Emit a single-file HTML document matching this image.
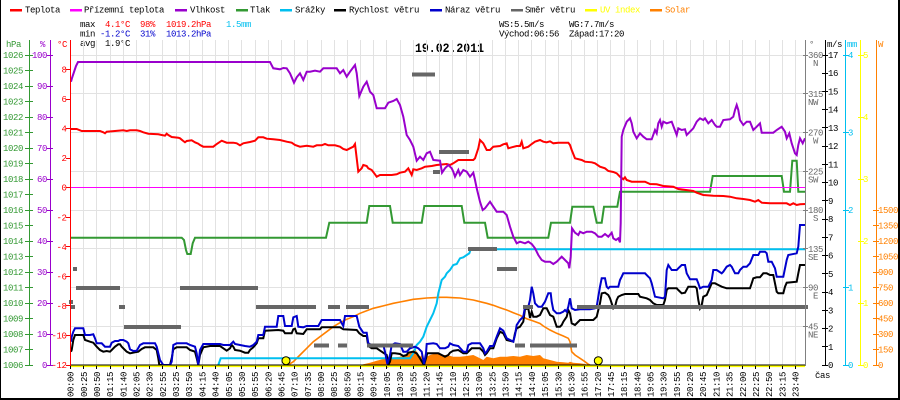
<!DOCTYPE html>
<html><head><meta charset="utf-8"><style>
html,body{margin:0;padding:0;background:#fff;}
svg{display:block;}
text{font-family:"Liberation Mono","DejaVu Sans Mono",monospace;font-size:9px;letter-spacing:-0.4px;}
</style></head><body>
<svg width="900" height="400" viewBox="0 0 900 400" xmlns="http://www.w3.org/2000/svg">
<rect x="0" y="0" width="900" height="400" fill="#fff"/>
<!-- border -->
<rect x="0" y="0" width="1" height="400" fill="#000"/>
<rect x="898" y="0" width="2" height="400" fill="#000"/>
<rect x="0" y="398" width="900" height="2" fill="#000"/>

<!-- legend -->
<g>
<rect x="10" y="9" width="12" height="2.5" fill="#f00"/><text x="25" y="12.5">Teplota</text>
<rect x="70" y="9" width="12" height="2.5" fill="#f0f"/><text x="84" y="12.5">Přízemní teplota</text>
<rect x="175" y="9" width="12" height="2.5" fill="#90c"/><text x="190" y="12.5">Vlhkost</text>
<rect x="236" y="9" width="12" height="2.5" fill="#393"/><text x="250" y="12.5">Tlak</text>
<rect x="280" y="9" width="12" height="2.5" fill="#00bfef"/><text x="295" y="12.5">Srážky</text>
<rect x="334" y="9" width="12" height="2.5" fill="#000"/><text x="349" y="12.5">Rychlost větru</text>
<rect x="430" y="9" width="12" height="2.5" fill="#00c"/><text x="445" y="12.5">Náraz větru</text>
<rect x="511" y="9" width="12" height="2.5" fill="#666"/><text x="525" y="12.5">Směr větru</text>
<rect x="585" y="9" width="12" height="2.5" fill="#ff0"/><text x="600" y="12.5" fill="#ff0">UV index</text>
<rect x="650" y="9" width="12" height="2.5" fill="#ff8000"/><text x="665" y="12.5" fill="#ff8000">Solar</text>
</g>

<!-- stats -->
<g>
<text x="80" y="27">max</text><text x="105" y="27" fill="#f00">4.1°C</text><text x="140" y="27" fill="#f00">98%</text><text x="166" y="27" fill="#f00">1019.2hPa</text><text x="226" y="27" fill="#00bfef">1.5mm</text>
<text x="80" y="36.5">min</text><text x="100" y="36.5" fill="#00c">-1.2°C</text><text x="140" y="36.5" fill="#00c">31%</text><text x="166" y="36.5" fill="#00c">1013.2hPa</text>
<text x="80" y="46">avg</text><text x="105" y="46">1.9°C</text>
<text x="499" y="27">WS:5.5m/s</text><text x="569" y="27">WG:7.7m/s</text>
<text x="499" y="36.5">Východ:06:56</text><text x="569" y="36.5">Západ:17:20</text>
</g>
<text x="415" y="52" style="font-size:12.5px;font-weight:bold;letter-spacing:0" textLength="69" lengthAdjust="spacingAndGlyphs">19.02.2011</text>

<!-- grid -->
<path fill="none" stroke="#e2e2e2" stroke-width="1" shape-rendering="crispEdges" d="M83.5 40V365M96.5 40V365M110.5 40V365M123.5 40V365M136.5 40V365M149.5 40V365M162.5 40V365M176.5 40V365M189.5 40V365M202.5 40V365M215.5 40V365M228.5 40V365M241.5 40V365M255.5 40V365M268.5 40V365M281.5 40V365M294.5 40V365M307.5 40V365M321.5 40V365M334.5 40V365M347.5 40V365M360.5 40V365M373.5 40V365M386.5 40V365M400.5 40V365M413.5 40V365M426.5 40V365M439.5 40V365M452.5 40V365M466.5 40V365M479.5 40V365M492.5 40V365M505.5 40V365M518.5 40V365M531.5 40V365M545.5 40V365M558.5 40V365M571.5 40V365M584.5 40V365M597.5 40V365M610.5 40V365M624.5 40V365M637.5 40V365M650.5 40V365M663.5 40V365M676.5 40V365M690.5 40V365M703.5 40V365M716.5 40V365M729.5 40V365M742.5 40V365M755.5 40V365M769.5 40V365M782.5 40V365M795.5 40V365M71 55.5H805M71 93.5H805M71 132.5H805M71 171.5H805M71 210.5H805M71 248.5H805M71 287.5H805M71 326.5H805"/>

<!-- solar fill -->
<polygon fill="#ff8000" points="360,365 370,362.7 376.7,360.7 386.7,358.3 400,356.7 406.7,355 411.7,351.7 415,348.3 416.7,351.7 420,356.7 421.7,355 425,361.7 426.7,356.7 430,355 433.3,354 436.7,353.3 440,355 446.7,355 453.3,356.7 460,356.7 466.7,356 473.3,355 480,358.3 483.3,360 486.7,356.7 493.3,358.3 500,356.7 506.7,356.7 513.3,356 520,356.7 526.7,355 533.3,356 540,355 543.3,358.3 550,360 556.7,361.7 563.3,362.3 568.3,362.7 570,361.7 573.3,362.7 580,363.3 585,364 588.3,365"/>
<!-- solar curve -->
<polyline fill="none" stroke="#ff8000" stroke-width="1.6" points="288,365 293.3,361.7 300,355 306.7,348.3 313.3,341.7 320,336.7 326.7,331.7 333.3,326.7 340,322.7 346.7,319.3 353.3,316.7 360,313.3 366.7,310.7 373.3,308.3 380,306.7 386.7,305 393.3,303.3 400,302 406.7,300.7 413.3,299.3 420,298.7 426.7,298 433.3,297.7 440,297.3 446.7,297.3 453.3,297.7 460,298 466.7,299 473.3,300 480,301.7 486.7,303.3 493.3,305.3 500,307.7 506.7,310 513.3,312.7 520,315.3 526.7,318.7 533.3,321 540,323.5 543.3,326 550,330 556.7,333.3 563.3,336 568.3,338.3 570,341.7 571.7,351.7 575,355 580,358.3 585,361.7 588.3,364.3 590,365"/>

<!-- rain -->
<polyline fill="none" stroke="#00bfef" stroke-width="2" points="218.3,365 220.7,358.3 410,358.3 413.3,353.3 416.7,345 420,341.7 423.3,336.7 426.7,326.7 430,320 433.3,313.3 436.7,303.3 438.3,293.3 440,286.7 441.7,280 445,276.7 446.7,273.3 450,270 453.3,265 456.7,264 460,258.3 463.3,257.3 466.7,255 469.3,253.3 470.7,249.3 805,249.3"/>

<!-- pressure -->
<polyline fill="none" stroke="#393" stroke-width="2" points="71,237.7 181.7,237.7 184,240 186,250 187.3,254 190.7,254 192.7,243.3 195,237.7 326,237.7 329.3,222.7 366.7,222.7 369.3,206 390,206 392.7,222.7 421.7,222.7 424.3,206 461.7,206 464.3,222.7 485,222.7 487.7,237.7 548.3,237.7 551,222.7 570,222.7 572.3,206.7 593.3,206.7 596.7,222.7 601.7,222.7 604,206.7 617.3,206.7 620,191.7 710,191.7 712.7,176 781.7,176 784,191.7 790,191.7 792.3,160.7 796.7,160.7 798.3,191.7 805,191.7"/>

<!-- ground temp (0) -->
<line x1="71" y1="187.5" x2="805" y2="187.5" stroke="#f0f" stroke-width="1"/>

<!-- temperature -->
<polyline fill="none" stroke="#f00" stroke-width="2" points="71,129 76.7,129 81.7,131 100,131 103.3,132.3 105,133.3 106.7,131.7 115,131 123.3,130.3 126.7,131 130,130.3 136.7,130.3 140,131 143.3,132.3 148.3,133.7 158.3,134.3 161.7,135 165,135.7 166.7,133.7 168.3,135 171.7,137 178.3,137.7 180,138.3 183.3,141 185,142.3 186.7,141 191.7,140.3 195,142.3 198.3,143.7 200,145 203.3,146.7 213.3,146.7 216.7,144 221.7,140.7 226.7,142.7 233.3,142.7 236.7,143.3 240,145.3 243.3,143.3 250,142 255,140.7 258.3,137.3 263.3,137.3 266.7,138.7 273.3,139.3 280,140 286.7,141.7 291.7,142.7 295,145 300,146.7 306.7,145.7 313.3,146.7 316.7,145.3 321.7,145.3 325,144 328.3,145.3 335,145.3 340,146.7 343.3,149 346.7,150 350,148.3 353.3,146.7 355,144 356.7,158.3 358.3,171.7 361.7,168.3 363.3,165 366.7,166 368.3,168.3 371.7,170 375,174.3 376.7,176.7 380,175 391.7,175 396.7,174.3 400,172.7 405,171.7 408.3,168.3 410,171.7 411.7,175 413.3,169.3 416.7,170 421.7,168.3 425,166.7 431.7,166 436.7,165 446.7,164 450,165 453.3,163.3 458.3,160 473.3,160 475,158.3 478.3,148.3 480,140 483.3,143.3 486.7,150 490,150 493.3,146.7 500,146 503.3,144.3 506.7,143.3 508.3,148.3 511.7,147.3 516.7,146 520,146 521.7,141.7 523.3,148.3 528.3,146.7 531.7,144 535,141.7 540,140 543.3,141.7 546.7,142.3 550,141.3 553.3,143.3 558.3,142.7 568.3,142.7 570,145 571.7,150 575,158.3 581.7,160 585,161.7 591.7,162.3 595,163.3 600,166.7 605,168.3 608.3,171 613.3,172 616.7,173.3 620,176.7 623.3,179.3 625,177.3 626.7,180 631.7,181.7 645,181.7 650,184 656.7,184.3 663.3,186 673.3,186.7 678.3,189 693.3,191 696.7,192.7 703.3,195 713.3,195.7 723.3,196 730,196.7 736.7,198.3 743.3,199 750,200 755,201.7 758.3,200 761.7,202.7 770,203.3 786.7,203.3 790,205 793.3,203.3 796.7,205 800,204.3 805,204"/>

<!-- humidity -->
<polyline fill="none" stroke="#90c" stroke-width="2" points="71,81.7 72,78 74,72 76,66 78,62 270,62 273.3,68.3 280,69.3 283.3,68 286.7,68.3 290,73.3 294,82.7 296.7,77.3 300,73.3 303.3,80 306.7,71.7 310,71.7 315,70.7 320,71.7 323.3,68.3 336.7,68.3 340,73.3 343.3,70 346.7,76.7 350,71.7 355,65 356.7,73.3 359.3,96 363.3,86.7 366.7,81.7 370,91.7 373.3,95 376.7,108.3 385,108.3 388.3,102.7 393.3,101 396.7,99 400,105 403.3,116.7 406.7,135 410,140 413.3,146.7 416.7,160.7 420,156.7 423.3,160 426.7,153.3 430,151.7 433.3,160 440,160.7 442,172.7 445,168.3 448.3,165 451.7,168.3 453.3,171.7 455,176.7 458.3,170 460,175 463.3,170 466.7,171.7 470,176.7 473.3,172.7 475,180 476.7,188.3 480,201.7 482.7,210 485,208.3 490,201.7 493.3,206.7 496.7,211.7 503.3,211.7 506.7,215 510,226.7 513.3,236.7 516.7,243.3 520,241.7 525,243.3 528.3,241.7 531.7,244 535,248.3 538.3,255 541.7,260 545,261.7 550,261.7 553.3,264 556.7,261.7 561.7,256.7 565,260 568.3,263.3 569.3,268.3 570.7,256.7 572,228.3 575,232.7 578.3,235 580,231.7 583.3,233.3 586.7,231.7 591.7,231.7 595,233.3 598.3,236.7 601.7,236.7 605,234 608.3,236.7 611.7,232.7 613.3,238.3 616,240 618.3,238.3 620,242.3 620.7,223.3 621.7,136.7 623.3,130 626.7,121.7 630,118.3 631.7,123.3 633.3,131.7 636.7,138.3 640,133.3 643.3,136.7 646.7,139.3 651.7,139.3 655,130 656.7,133.3 658.3,123.3 660,120 661.7,126.7 663.3,121.7 666.7,123.3 671.7,121.7 676.7,135 678.3,128.3 681.7,130 685,129.3 686.7,135 690,131.7 693.3,128.3 696.7,121.7 698.3,120 700,118.3 703.3,120 705,118.3 708.3,123.3 711.7,120 715,125 716.7,126.7 720,126.7 723.3,120 730,119.3 733.3,116.7 735,110 736.7,105 738.3,110 740,120 743.3,125 746.7,121.7 750,121.7 753.3,130 756.7,126.7 760,123.3 761.7,132.7 773.3,132.7 776.7,130 781.7,126.7 785,131.7 786.7,138.3 789.3,133.3 791.7,143.3 795,153.3 796.7,155 798.3,145 800,138.3 802.7,143.3 805,138.3"/>

<!-- wind speed -->
<polyline fill="none" stroke="#000" stroke-width="2" points="71,351.7 71.7,350 73.3,340 75,335 83.3,335 85,340 90,341.7 93.3,342.7 96.7,346.7 100,350 103.3,351.7 106.7,351 110,351.7 111.7,350 115,346.7 118.3,344.3 120,344.3 121.7,346.7 125,350 126.7,351.7 130,353.3 135,352.3 138.3,351.7 141.7,349 145,347.3 153.3,347.3 156.7,350 158.3,358.3 159.3,365 170,365 171.7,358.3 173.3,349.3 176.7,347.3 186.7,347.3 190,350 195,351.7 196.7,358.3 198.3,365 200,355 203.3,347.3 210,346 220,346 223.3,348.3 226.7,350.7 230,348.3 231.7,345 233.3,346.7 235,350 240,350.7 245,352.7 248.3,352.7 250,350 253.3,347.3 256.7,343.3 258.3,338.3 263.3,338.3 265,330.7 278.3,330 283.3,330.7 285,333.3 291.7,333.3 293.3,329.3 295,328.7 296.7,333.3 303.3,334 306.7,329.3 320,329.3 321.7,327.3 340,327.3 343.3,329.3 356.7,330 359.3,333.3 363.3,336 366.7,336 368.3,346 371.7,348.3 376.7,348.3 381.7,351.7 386.7,355 388.3,365 390,361.7 391.7,353.3 395,353.3 400,354 403.3,356 406.7,355 408.3,352.7 413.3,351.7 416.7,353.3 420,358.3 424,365 426,358.3 427.3,353.3 438.3,353.3 441.7,355 445,356.7 448.3,355 450,352.7 453.3,350.7 458.3,350 463.3,353.3 466.7,353.3 468.3,351.7 471.7,348.3 480,348.3 483.3,351.7 485,355 486.7,353.3 490,348.3 493.3,348.3 496.7,338.3 500,331.7 503.3,333.3 506.7,340 513.3,341.7 515,333.3 516.7,328.3 520,326.7 523.3,321.7 525,309.3 528.3,308.3 530,318 531.7,311.7 533.3,316.7 536.7,316.7 540,315 543.3,308.3 546.7,308.3 550,315 553.3,316.7 556.7,326.7 560,326.7 561.7,325 563.3,321.7 566.7,316.7 568.3,310 570,313.3 571.7,323.3 575,325 580,320 593.3,320 596.7,316.7 598.3,310 600,303.3 601.7,293.3 605,292.7 608.3,295 610,298.3 611.7,303.3 613.3,308.3 615,306.7 616.7,300 618.3,296.7 621.7,295 625,294 638.3,294 640,296.7 646.7,298.3 650,300 653.3,303.3 656.7,305 663.3,305 665,300 666.7,290 668.3,288.3 676.7,288.3 678.3,290 681.7,293.3 685,292.7 688.3,286.7 695,286.7 696.7,288.3 698.3,300 700,308.3 701.7,305 703.3,296.7 706.7,295 711.7,283.3 715,283.3 718.3,285 721.7,286.7 726.7,288.3 750,288.3 751.7,283.3 753.3,278.3 756.7,277.3 760,277.3 763.3,273.3 766.7,273.3 770,275 773.3,275 776.7,291.7 778.3,293.3 783.3,293.3 785,286.7 786.7,282.7 796.7,281.7 798.3,273.3 800,265 805,265"/>

<!-- gust -->
<polyline fill="none" stroke="#00c" stroke-width="2" points="71,341.7 71.7,336.7 73.3,331.7 75,328.3 83.3,328.3 85,335 90,335 93.3,334.3 95,338.3 96.7,343.3 101.7,343.3 105,346.7 110,346.7 111.7,342.7 115,341 118.3,341 120,340 123.3,340 126.7,341.7 128.3,343.3 130,349.3 133.3,351 136.7,350.7 140,345 143.3,343.3 155,343.3 156.7,346.7 160,360 163.3,365 170,365 171.7,361.7 173.3,345 176.7,343.3 186.7,343.3 190,345 195,346.7 196.7,353.3 198.3,365 200,350 203.3,344 220,344 223.3,345 230,345 233.3,341.7 235,344 240,345 245,346 250,346.7 253.3,345 256.7,341.7 258.3,335 263.3,335 265,326.7 276.7,326.7 278.3,316 283.3,316 285,326 291.7,326 293.3,317.3 296.7,316 298.3,326.7 303.3,327.3 306.7,326 318.3,326 321.7,320 340,320 343.3,326 345,316 356.7,316 359.3,326.7 363.3,332.7 366.7,332.7 368.3,343.3 371.7,345 383.3,345 385,351.7 387.3,364 390,355 391.7,345 395,343.3 400,344 403.3,351.7 406.7,351.7 410,348.3 415,346.7 418.3,348.3 421.7,351.7 424,364 426,353.3 426.7,344 433.3,343.3 436.7,344 440,348.3 445,348.3 448.3,346.7 450,343.3 453.3,345 458.3,346 463.3,351.7 466.7,351.7 468.3,345 471.7,343.3 480,343.3 483.3,348.3 485,353.3 486.7,351.7 490,346 493.3,346 496.7,336.7 500,328.3 503.3,330.7 506.7,338.3 513.3,341.7 515,335 516.7,325 520,320 523.3,316.7 525,306.7 528.3,306.7 530,300 531.7,286.7 533.3,293.3 535,303.3 538.3,306.7 541.7,306.7 545,301.7 548.3,293.3 550.7,293.3 551.7,301.7 553.3,310 556.7,313.3 560,313.3 563.3,311.7 565,310 566.7,311.7 568.3,306.7 570,298.3 571.7,308.3 575,310 580,309.3 590,309.3 595,308.3 596.7,306.7 598.3,296.7 600,286.7 601.7,278.3 605,278.3 606.7,286.7 608.3,288.3 610,286.7 618.3,286.7 620,280 621.7,276.7 623.3,273.3 645,273.3 648.3,276.7 650,278.3 651.7,283.3 655,296.7 663.3,298.3 665,296.7 666.7,270 668.3,265 671.7,270 676.7,270 678.3,268.3 681.7,265 685,265 686.7,273.3 690,279.3 696.7,279.3 698.3,283.3 700,288.3 703.3,286.7 708.3,286.7 711.7,280 713.3,270 716.7,270 721.7,273.3 723.3,271.7 726.7,266.7 730,265 731.7,266.7 735,273.3 738.3,273.3 740,270 743.3,266.7 746.7,266.7 750,263.3 753.3,255 758.3,255 760,251.7 765,251.7 766.7,253.3 768.3,261.7 771.7,261.7 775,268.3 776.7,276.7 783.3,276.7 786.7,260 788.3,255 791.7,254.3 796.7,253.3 798.3,246.7 800,225 805,225"/>

<!-- wind direction -->
<g fill="#666">
<rect x="73" y="267" width="4" height="4"/>
<rect x="76" y="286" width="44" height="4"/>
<rect x="69" y="300" width="4" height="4"/>
<rect x="71" y="305" width="4" height="4"/>
<rect x="119" y="305" width="6" height="4"/>
<rect x="124" y="325" width="57" height="4"/>
<rect x="180" y="286" width="78" height="4"/>
<rect x="256" y="305" width="60" height="4"/>
<rect x="328" y="305" width="12" height="4"/>
<rect x="346" y="305" width="23" height="4"/>
<rect x="314" y="343.5" width="15" height="4"/>
<rect x="338" y="343.5" width="9" height="4"/>
<rect x="367" y="343.5" width="46" height="4"/>
<rect x="412" y="72.5" width="23" height="4"/>
<rect x="439" y="150" width="30" height="4"/>
<rect x="433" y="170" width="7" height="4"/>
<rect x="468" y="247" width="29" height="4"/>
<rect x="497" y="267" width="20" height="4"/>
<rect x="523" y="305" width="10" height="4"/>
<rect x="515" y="343.5" width="10" height="4"/>
<rect x="530" y="343.5" width="47" height="4"/>
<rect x="577" y="305" width="231" height="4"/>
</g>

<!-- x axis -->
<line x1="71" y1="365" x2="805" y2="365" stroke="#000" stroke-width="1"/>
<line x1="71" y1="366.3" x2="805" y2="366.3" stroke="#ff0" stroke-width="1.6"/>
<path fill="none" stroke="#000" stroke-width="1" shape-rendering="crispEdges" d="M70.5 365v4M83.5 366v3M96.5 366v3M110.5 366v3M123.5 366v3M136.5 366v3M149.5 366v3M162.5 366v3M176.5 366v3M189.5 366v3M202.5 366v3M215.5 366v3M228.5 366v3M241.5 366v3M255.5 366v3M268.5 366v3M281.5 366v3M294.5 366v3M307.5 366v3M321.5 366v3M334.5 366v3M347.5 366v3M360.5 366v3M373.5 366v3M386.5 366v3M400.5 366v3M413.5 366v3M426.5 366v3M439.5 366v3M452.5 366v3M466.5 366v3M479.5 366v3M492.5 366v3M505.5 366v3M518.5 366v3M531.5 366v3M545.5 366v3M558.5 366v3M571.5 366v3M584.5 366v3M597.5 366v3M610.5 366v3M624.5 366v3M637.5 366v3M650.5 366v3M663.5 366v3M676.5 366v3M690.5 366v3M703.5 366v3M716.5 366v3M729.5 366v3M742.5 366v3M755.5 366v3M769.5 366v3M782.5 366v3M795.5 366v3"/>

<!-- UV sunrise/sunset dots -->
<circle cx="286" cy="360.7" r="4" fill="#ff0" stroke="#000" stroke-width="1"/>
<circle cx="598.3" cy="360.7" r="4" fill="#ff0" stroke="#000" stroke-width="1"/>

<!-- x labels -->
<g text-anchor="end">
<text transform="translate(73.6,372) rotate(-90)">00:00</text>
<text transform="translate(86.8,372) rotate(-90)">00:25</text>
<text transform="translate(100,372) rotate(-90)">00:50</text>
<text transform="translate(113.1,372) rotate(-90)">01:15</text>
<text transform="translate(126.3,372) rotate(-90)">01:40</text>
<text transform="translate(139.5,372) rotate(-90)">02:05</text>
<text transform="translate(152.7,372) rotate(-90)">02:30</text>
<text transform="translate(165.9,372) rotate(-90)">02:55</text>
<text transform="translate(179,372) rotate(-90)">03:25</text>
<text transform="translate(192.2,372) rotate(-90)">03:50</text>
<text transform="translate(205.4,372) rotate(-90)">04:15</text>
<text transform="translate(218.6,372) rotate(-90)">04:40</text>
<text transform="translate(231.8,372) rotate(-90)">05:05</text>
<text transform="translate(244.9,372) rotate(-90)">05:30</text>
<text transform="translate(258.1,372) rotate(-90)">05:55</text>
<text transform="translate(271.3,372) rotate(-90)">06:20</text>
<text transform="translate(284.5,372) rotate(-90)">06:45</text>
<text transform="translate(297.7,372) rotate(-90)">07:10</text>
<text transform="translate(310.8,372) rotate(-90)">07:35</text>
<text transform="translate(324,372) rotate(-90)">08:00</text>
<text transform="translate(337.2,372) rotate(-90)">08:25</text>
<text transform="translate(350.4,372) rotate(-90)">08:50</text>
<text transform="translate(363.6,372) rotate(-90)">09:15</text>
<text transform="translate(376.7,372) rotate(-90)">09:40</text>
<text transform="translate(389.9,372) rotate(-90)">10:05</text>
<text transform="translate(403.1,372) rotate(-90)">10:30</text>
<text transform="translate(416.3,372) rotate(-90)">10:55</text>
<text transform="translate(429.5,372) rotate(-90)">11:20</text>
<text transform="translate(442.6,372) rotate(-90)">11:45</text>
<text transform="translate(455.8,372) rotate(-90)">12:10</text>
<text transform="translate(469,372) rotate(-90)">12:35</text>
<text transform="translate(482.2,372) rotate(-90)">13:00</text>
<text transform="translate(495.4,372) rotate(-90)">13:25</text>
<text transform="translate(508.5,372) rotate(-90)">13:50</text>
<text transform="translate(521.7,372) rotate(-90)">14:15</text>
<text transform="translate(534.9,372) rotate(-90)">14:40</text>
<text transform="translate(548.1,372) rotate(-90)">15:05</text>
<text transform="translate(561.3,372) rotate(-90)">15:30</text>
<text transform="translate(574.4,372) rotate(-90)">16:30</text>
<text transform="translate(587.6,372) rotate(-90)">16:55</text>
<text transform="translate(600.8,372) rotate(-90)">17:20</text>
<text transform="translate(614,372) rotate(-90)">17:45</text>
<text transform="translate(627.2,372) rotate(-90)">18:15</text>
<text transform="translate(640.3,372) rotate(-90)">18:40</text>
<text transform="translate(653.5,372) rotate(-90)">19:05</text>
<text transform="translate(666.7,372) rotate(-90)">19:30</text>
<text transform="translate(679.9,372) rotate(-90)">19:55</text>
<text transform="translate(693.1,372) rotate(-90)">20:20</text>
<text transform="translate(706.2,372) rotate(-90)">20:45</text>
<text transform="translate(719.4,372) rotate(-90)">21:10</text>
<text transform="translate(732.6,372) rotate(-90)">21:35</text>
<text transform="translate(745.8,372) rotate(-90)">22:00</text>
<text transform="translate(759,372) rotate(-90)">22:25</text>
<text transform="translate(772.1,372) rotate(-90)">22:50</text>
<text transform="translate(785.3,372) rotate(-90)">23:15</text>
<text transform="translate(798.5,372) rotate(-90)">23:40</text>
</g>
<text x="815" y="378">čas</text>

<!-- left axes -->
<g shape-rendering="crispEdges">
<line x1="29.5" y1="40" x2="29.5" y2="365" stroke="#393"/>
<line x1="50.5" y1="40" x2="50.5" y2="365" stroke="#90c"/>
<line x1="70.5" y1="40" x2="70.5" y2="366" stroke="#f00"/>
<path stroke="#393" d="M25 365.5H33M25 349.5H33M25 334.5H33M25 318.5H33M25 303.5H33M25 287.5H33M25 272.5H33M25 256.5H33M25 241.5H33M25 225.5H33M25 210.5H33M25 194.5H33M25 179.5H33M25 163.5H33M25 148.5H33M25 132.5H33M25 117.5H33M25 101.5H33M25 86.5H33M25 70.5H33M25 55.5H33"/>
<path stroke="#90c" d="M47 365.5H53M47 334.5H53M47 303.5H53M47 272.5H53M47 241.5H53M47 210.5H53M47 179.5H53M47 148.5H53M47 117.5H53M47 86.5H53M47 55.5H53"/>
<path stroke="#f00" d="M66 365.5H71M66 335.5H71M66 305.5H71M66 276.5H71M66 246.5H71M66 217.5H71M66 187.5H71M66 158.5H71M66 128.5H71M66 99.5H71M66 69.5H71"/>
</g>
<text x="6" y="47" fill="#393">hPa</text>
<text x="40" y="47" fill="#90c">%</text>
<text x="57" y="47" fill="#f00">°C</text>
<g text-anchor="end" fill="#393">
<text x="23" y="368">1006</text><text x="23" y="352.5">1007</text><text x="23" y="337">1008</text><text x="23" y="321.5">1009</text><text x="23" y="306">1010</text><text x="23" y="290.5">1011</text><text x="23" y="275">1012</text><text x="23" y="259.5">1013</text><text x="23" y="244">1014</text><text x="23" y="228.5">1015</text><text x="23" y="213">1016</text><text x="23" y="197.5">1017</text><text x="23" y="182">1018</text><text x="23" y="166.5">1019</text><text x="23" y="151">1020</text><text x="23" y="135.5">1021</text><text x="23" y="120">1022</text><text x="23" y="104.5">1023</text><text x="23" y="89">1024</text><text x="23" y="73.5">1025</text><text x="23" y="58">1026</text>
</g>
<g text-anchor="end" fill="#90c">
<text x="47" y="368">0</text><text x="47" y="337">10</text><text x="47" y="306">20</text><text x="47" y="275">30</text><text x="47" y="244">40</text><text x="47" y="213">50</text><text x="47" y="182">60</text><text x="47" y="151">70</text><text x="47" y="120">80</text><text x="47" y="89">90</text><text x="47" y="58">100</text>
</g>
<g text-anchor="end" fill="#f00">
<text x="66.5" y="368">-12</text><text x="66.5" y="338.5">-10</text><text x="66.5" y="309">-8</text><text x="66.5" y="279.4">-6</text><text x="66.5" y="249.8">-4</text><text x="66.5" y="220.3">-2</text><text x="66.5" y="190.7">0</text><text x="66.5" y="161.2">2</text><text x="66.5" y="131.6">4</text><text x="66.5" y="102.1">6</text><text x="66.5" y="72.5">8</text>
</g>

<!-- right axes -->
<g shape-rendering="crispEdges">
<line x1="805.5" y1="40" x2="805.5" y2="366" stroke="#808080"/>
<line x1="825.5" y1="40" x2="825.5" y2="366" stroke="#000"/>
<line x1="845.5" y1="40" x2="845.5" y2="366" stroke="#00bfef"/>
<line x1="860.5" y1="40" x2="860.5" y2="366" stroke="#ff0"/>
<line x1="876.5" y1="40" x2="876.5" y2="366" stroke="#ff8000"/>
<path stroke="#808080" d="M803 55.5H808M803 93.5H808M803 132.5H808M803 171.5H808M803 210.5H808M803 248.5H808M803 287.5H808M803 326.5H808"/>
<path stroke="#000" d="M822 365.5H828M822 346.5H828M822 328.5H828M822 310.5H828M822 292.5H828M822 273.5H828M822 255.5H828M822 237.5H828M822 219.5H828M822 200.5H828M822 182.5H828M822 164.5H828M822 146.5H828M822 127.5H828M822 109.5H828M822 91.5H828M822 73.5H828M822 55.5H828"/>
<path stroke="#00bfef" d="M843 365.5H849M843 287.5H849M843 210.5H849M843 132.5H849M843 55.5H849"/>
<path stroke="#ff0" d="M858 365.5H864M858 303.5H864M858 241.5H864M858 179.5H864M858 117.5H864M858 55.5H864"/>
<path stroke="#ff8000" d="M873 365.5H879M873 349.5H879M873 334.5H879M873 318.5H879M873 303.5H879M873 287.5H879M873 272.5H879M873 256.5H879M873 241.5H879M873 225.5H879M873 210.5H879"/>
</g>
<text x="809" y="47" fill="#666">°</text>
<text x="827" y="47">m/s</text>
<text x="847" y="47" fill="#00bfef">mm</text>
<text x="878" y="47" fill="#ff8000">W</text>
<g fill="#666">
<text x="808" y="58">360</text><text x="813" y="66">N</text>
<text x="808" y="96.8">315</text><text x="808" y="104.8">NW</text>
<text x="808" y="135.5">270</text><text x="813" y="143.5">W</text>
<text x="808" y="174.3">225</text><text x="808" y="182.3">SW</text>
<text x="808" y="213">180</text><text x="813" y="221">S</text>
<text x="808" y="251.8">135</text><text x="808" y="259.8">SE</text>
<text x="808" y="290.5">90</text><text x="813" y="298.5">E</text>
<text x="808" y="329.3">45</text><text x="808" y="337.3">NE</text>
</g>
<g>
<text x="828" y="368">0</text><text x="828" y="349.8">1</text><text x="828" y="331.5">2</text><text x="828" y="313.3">3</text><text x="828" y="295.1">4</text><text x="828" y="276.8">5</text><text x="828" y="258.6">6</text><text x="828" y="240.4">7</text><text x="828" y="222.1">8</text><text x="828" y="203.9">9</text><text x="828" y="185.6">10</text><text x="828" y="167.4">11</text><text x="828" y="149.2">12</text><text x="828" y="130.9">13</text><text x="828" y="112.7">14</text><text x="828" y="94.5">15</text><text x="828" y="76.2">16</text><text x="828" y="58">17</text>
</g>
<g fill="#00bfef">
<text x="848" y="368">0</text><text x="848" y="290.5">1</text><text x="848" y="213">2</text><text x="848" y="135.5">3</text><text x="848" y="58">4</text>
</g>
<g fill="#ff0">
<text x="863" y="368">0</text><text x="863" y="306">1</text><text x="863" y="244">2</text><text x="863" y="182">3</text><text x="863" y="120">4</text><text x="863" y="58">5</text>
</g>
<g fill="#ff8000">
<text x="878" y="368">0</text><text x="878" y="352.5">150</text><text x="878" y="337">300</text><text x="878" y="321.5">450</text><text x="878" y="306">600</text><text x="878" y="290.5">750</text><text x="878" y="275">900</text><text x="878" y="259.5">1050</text><text x="878" y="244">1200</text><text x="878" y="228.5">1350</text><text x="878" y="213">1500</text>
</g>
</svg>
</body></html>
